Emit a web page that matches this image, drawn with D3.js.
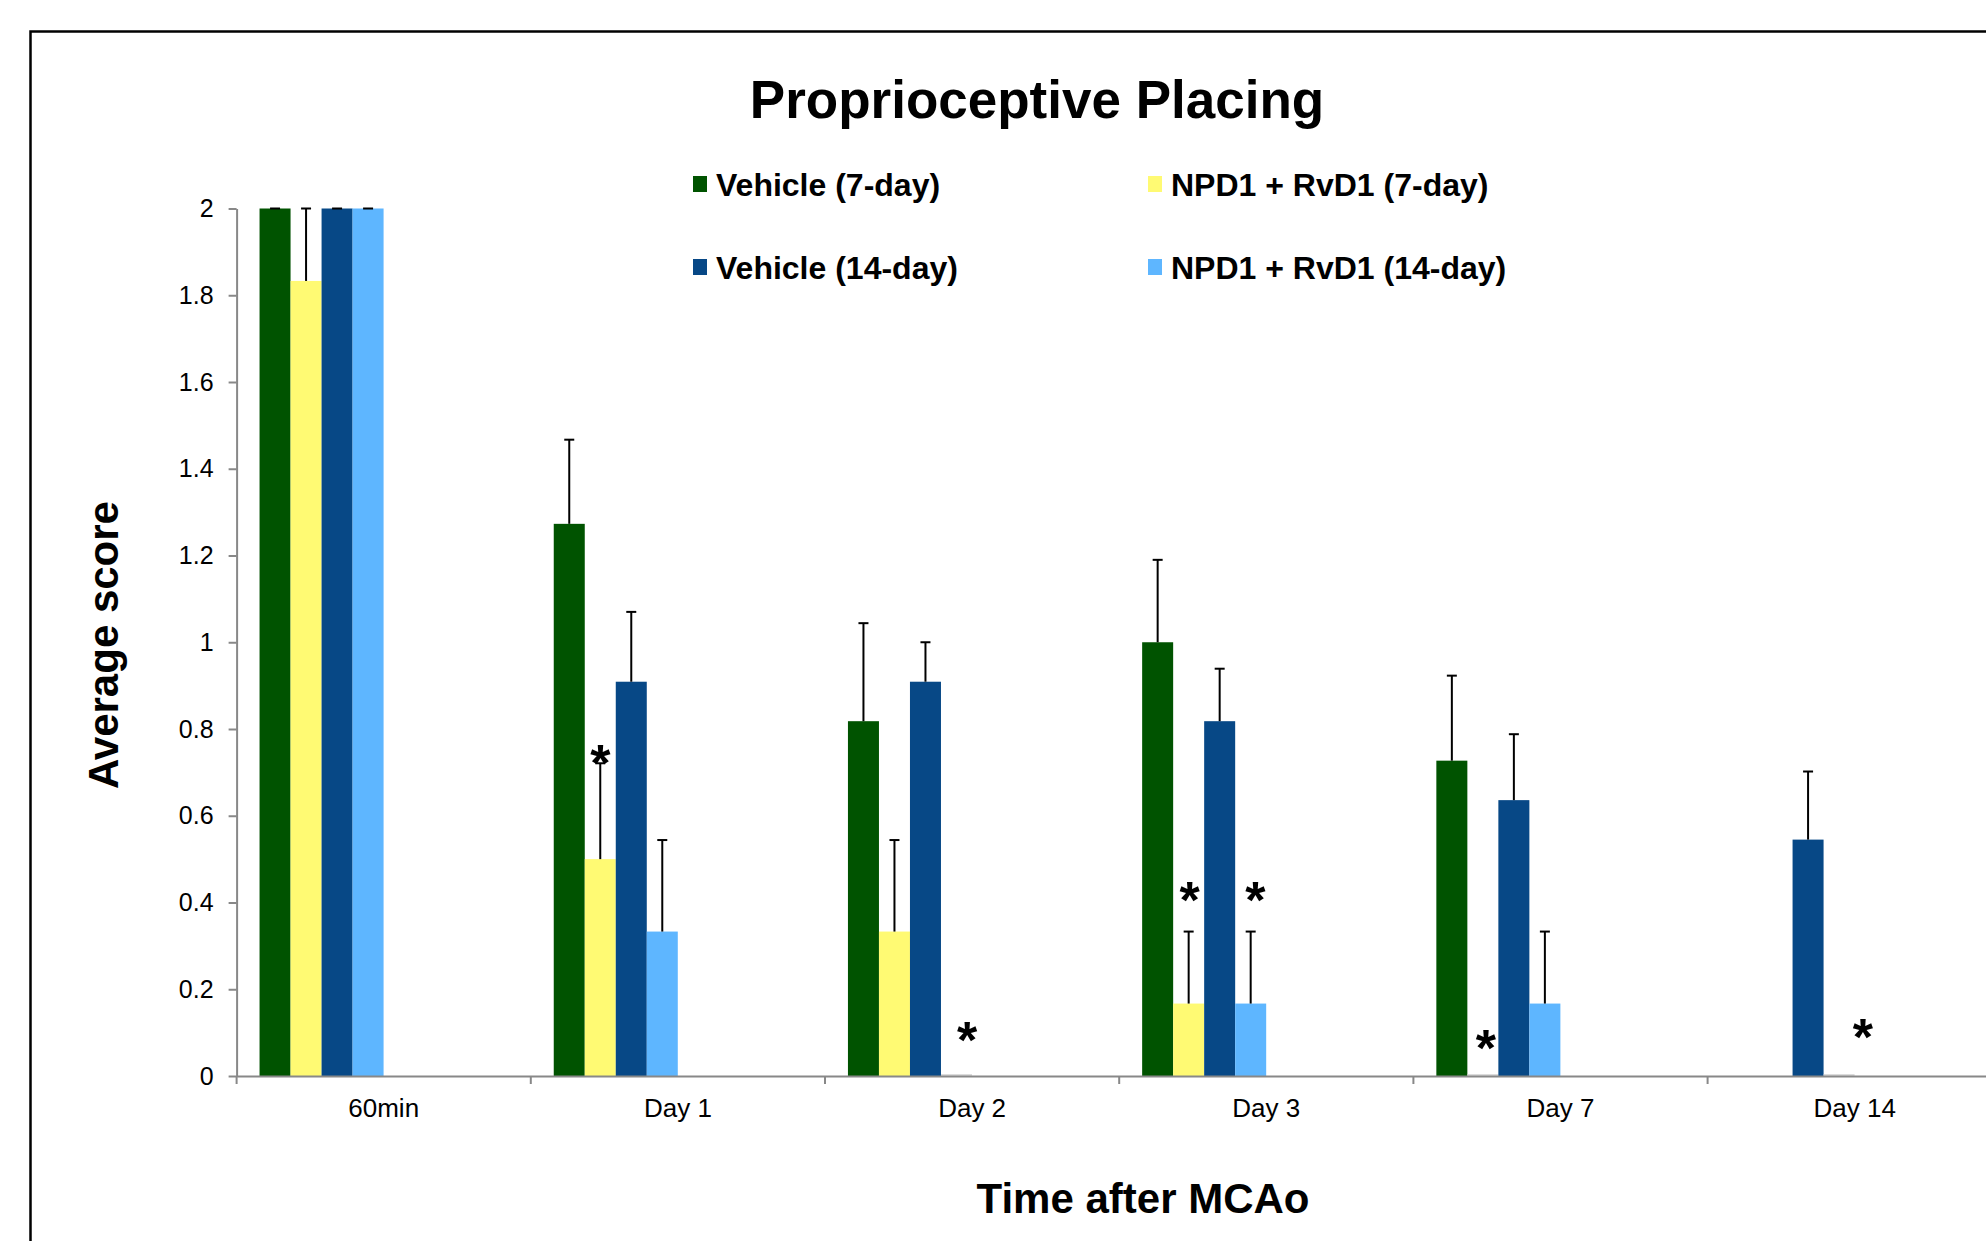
<!DOCTYPE html>
<html>
<head>
<meta charset="utf-8">
<script src="https://cdn.jsdelivr.net/npm/d3@7"></script>
<style>
  html, body { margin: 0; padding: 0; background: #fff; overflow: hidden; }
  svg { display: block; font-family: "Liberation Sans", Arial, sans-serif; }
</style>
</head>
<body>
<svg id="chart" width="1986" height="1241"></svg>
<script>
// ---- data ----
const categories = ["60min", "Day 1", "Day 2", "Day 3", "Day 7", "Day 14"];
const seriesNames = ["Vehicle (7-day)", "NPD1 + RvD1 (7-day)", "Vehicle (14-day)", "NPD1 + RvD1 (14-day)"];
const seriesColors = ["#005300", "#FFFA73", "#074886", "#5EB6FF"];

const vehicle7     = [2, 1.273, 0.818, 1.0, 0.727, null];
const vehicle7Err  = [0, 0.194, 0.226, 0.19, 0.196, null];
const npd7         = [1.833, 0.5, 0.333, 0.167, 0, null];
const npd7Err      = [0.167, 0.221, 0.211, 0.166, 0, null];
const vehicle14    = [2, 0.909, 0.909, 0.818, 0.636, 0.545];
const vehicle14Err = [0, 0.161, 0.091, 0.121, 0.152, 0.157];
const npd14        = [2, 0.333, 0, 0.167, 0.167, 0];
const npd14Err     = [0, 0.211, 0, 0.166, 0.166, 0];

const yTicks = [0, 0.2, 0.4, 0.6, 0.8, 1, 1.2, 1.4, 1.6, 1.8, 2];

// significance markers: category, series index, vertical value, shift in bar widths
const starCategory = ["Day 1", "Day 2", "Day 3", "Day 3", "Day 7", "Day 14"];
const starSeries   = [1, 3, 1, 3, 1, 3];
const starValue    = [0.738, 0.099, 0.422, 0.422, 0.081, 0.105];
const starShift    = [0, 0.34, 0.03, 0.15, 0.1, 0.77];

const values = [vehicle7, npd7, vehicle14, npd14];
const errors = [vehicle7Err, npd7Err, vehicle14Err, npd14Err];

// ---- layout ----
const svg = d3.select("#chart");
const axisX0 = 236.6, bandW = 294.2;
const y0 = 1076, y2 = 208.5;

// outer frame (cropped at right and bottom)
svg.append("rect")
  .attr("x", 30.5).attr("y", 31.5)
  .attr("width", 2100).attr("height", 1400)
  .attr("fill", "none").attr("stroke", "#000").attr("stroke-width", 2.5);

const x = d3.scaleBand().domain(categories)
  .range([axisX0, axisX0 + bandW * categories.length])
  .paddingInner(0).paddingOuter(0);

const xs = d3.scaleBand().domain(d3.range(seriesNames.length))
  .range([bandW * 0.078, bandW * (0.078 + 4 * 0.1054)])
  .paddingInner(0).paddingOuter(0);

const y = d3.scaleLinear().domain([0, 2]).range([y0, y2]);

// Title
svg.append("text")
  .attr("x", 1037).attr("y", 118)
  .attr("text-anchor", "middle")
  .attr("font-size", 53).attr("font-weight", "bold")
  .text("Proprioceptive Placing");

// Legend
const legendPos = [[693, 176], [1148, 176], [693, 259], [1148, 259]];
seriesNames.forEach((name, i) => {
  const [lx, ly] = legendPos[i];
  svg.append("rect").attr("x", lx).attr("y", ly).attr("width", 14).attr("height", 16)
    .attr("fill", seriesColors[i]);
  svg.append("text").attr("x", lx + 23).attr("y", ly + 19.5)
    .attr("font-size", 32).attr("font-weight", "bold")
    .text(name);
});

// Y axis
const yAxis = svg.append("g")
  .attr("transform", `translate(${axisX0},0)`)
  .call(d3.axisLeft(y).tickValues(yTicks).tickSize(8).tickSizeOuter(0).tickPadding(15)
    .tickFormat(d => d3.format("~g")(d)));
yAxis.select(".domain").attr("stroke", "#888").attr("stroke-width", 2);
yAxis.selectAll(".tick line").attr("stroke", "#888").attr("stroke-width", 2);
yAxis.selectAll(".tick text").attr("font-size", 25).attr("fill", "#000")
  .attr("font-family", "Liberation Sans, Arial, sans-serif");

// Bars
const plot = svg.append("g");
categories.forEach((cat, ci) => {
  values.forEach((vals, si) => {
    const v = vals[ci];
    if (v === null || v === undefined) return;
    const bx = x(cat) + xs(si);
    const bw = xs.bandwidth();
    if (v > 0) {
      plot.append("rect")
        .attr("x", bx).attr("y", y(v))
        .attr("width", bw).attr("height", y(0) - y(v))
        .attr("fill", seriesColors[si]);
    } else {
      plot.append("line")
        .attr("x1", bx).attr("x2", bx + bw)
        .attr("y1", y(0) - 1).attr("y2", y(0) - 1)
        .attr("stroke", "#d0d0d0").attr("stroke-width", 1.5);
    }
  });
});

// X axis (Excel style: tick marks on category boundaries)
const xAxis = svg.append("g")
  .attr("transform", `translate(0,${y0})`)
  .call(d3.axisBottom(x).tickSize(0).tickSizeOuter(0).tickPadding(0));
xAxis.select(".domain").attr("stroke", "#888").attr("stroke-width", 2);
xAxis.selectAll(".tick text")
  .attr("font-size", 26).attr("fill", "#000")
  .attr("font-family", "Liberation Sans, Arial, sans-serif")
  .attr("y", 32).attr("dy", "0.35em");
categories.forEach((cat) => {
  xAxis.append("line")
    .attr("x1", x(cat)).attr("x2", x(cat))
    .attr("y1", 0).attr("y2", 8)
    .attr("stroke", "#888").attr("stroke-width", 2);
});

// Error bars
categories.forEach((cat, ci) => {
  values.forEach((vals, si) => {
    const v = vals[ci], e = errors[si][ci];
    if (v === null || v === undefined || v <= 0) return;
    const cx = x(cat) + xs(si) + xs.bandwidth() / 2;
    plot.append("line")
      .attr("x1", cx).attr("x2", cx)
      .attr("y1", y(v)).attr("y2", y(v + e))
      .attr("stroke", "#000").attr("stroke-width", 2);
    plot.append("line")
      .attr("x1", cx - 5).attr("x2", cx + 5)
      .attr("y1", y(v + e)).attr("y2", y(v + e))
      .attr("stroke", "#000").attr("stroke-width", 2);
  });
});

// Significance asterisks
starCategory.forEach((cat, i) => {
  const si = starSeries[i];
  const cx = x(cat) + xs(si) + xs.bandwidth() * (0.5 + starShift[i]);
  svg.append("text")
    .attr("x", cx).attr("y", y(starValue[i]) + 25)
    .attr("text-anchor", "middle")
    .attr("font-size", 52).attr("font-weight", "bold")
    .text("*");
});

// Axis titles
svg.append("text")
  .attr("transform", "translate(118,645) rotate(-90)")
  .attr("text-anchor", "middle")
  .attr("font-size", 42).attr("font-weight", "bold")
  .text("Average score");

svg.append("text")
  .attr("x", 1143).attr("y", 1213)
  .attr("text-anchor", "middle")
  .attr("font-size", 42).attr("font-weight", "bold")
  .text("Time after MCAo");
</script>
</body>
</html>
